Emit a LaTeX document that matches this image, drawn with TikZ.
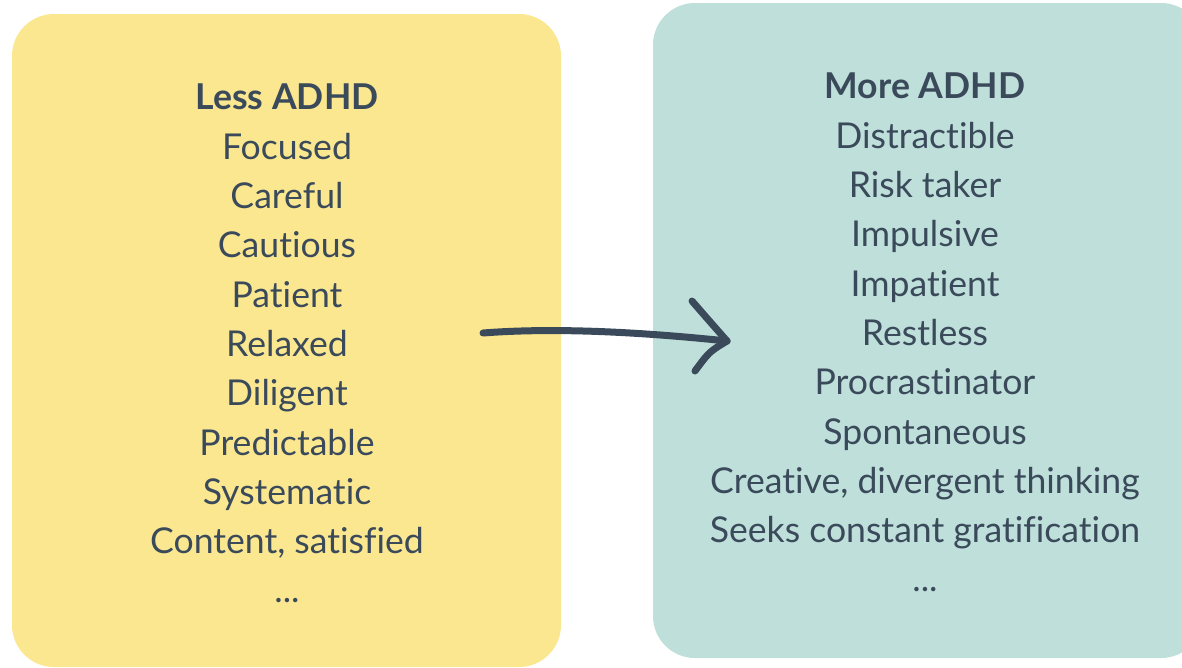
\documentclass[tikz,border=0pt]{standalone}
\usepackage{fontspec}
\setmainfont{Lato}[Ligatures={NoCommon}]

\definecolor{lessyellow}{RGB}{251,231,144}
\definecolor{moreteal}{RGB}{190,223,218}
\definecolor{slate}{RGB}{58,74,90}

\begin{document}
\begin{tikzpicture}[x=1pt, y=-1pt,
    panel/.style={rounded corners=42pt, inner sep=0pt},
    traits/.style={align=center, anchor=north, text=slate, inner sep=0pt,
                   font=\fontsize{35.6}{49.3}\selectfont},
    pen/.style={draw=slate, line width=7pt, line cap=round}]
    \useasboundingbox (0,0) rectangle (1182,667);
    \clip (0,0) rectangle (1182,667);

    % Draw panels
    \node[panel, fill=lessyellow, minimum width=549pt, minimum height=653pt] (lessbox) at (286.5,340.5) {};
    \node[panel, fill=moreteal, minimum width=550pt, minimum height=655pt] (morebox) at (928,330.5) {};

    % Lists
    \node[traits] (less) at (287,84) {\textbf{Less ADHD}\\Focused\\Careful\\Cautious\\Patient\\Relaxed\\Diligent\\Predictable\\Systematic\\Content, satisfied\\...};
    \node[traits] (more) at (925,73) {\textbf{More ADHD}\\Distractible\\Risk taker\\Impulsive\\Impatient\\Restless\\Procrastinator\\Spontaneous\\Creative, divergent thinking\\Seeks constant gratification\\...};

    % Draw arrow
    \coordinate (tail) at (483,333);
    \coordinate (tip) at (727,341);
    \draw[pen] (tail) .. controls (560,327) and (650,333) .. (tip);
    \draw[pen] (tip) .. controls (712,324) .. (692,301);
    \draw[pen] (tip) .. controls (709,352) .. (695,371);
\end{tikzpicture}
\end{document}
